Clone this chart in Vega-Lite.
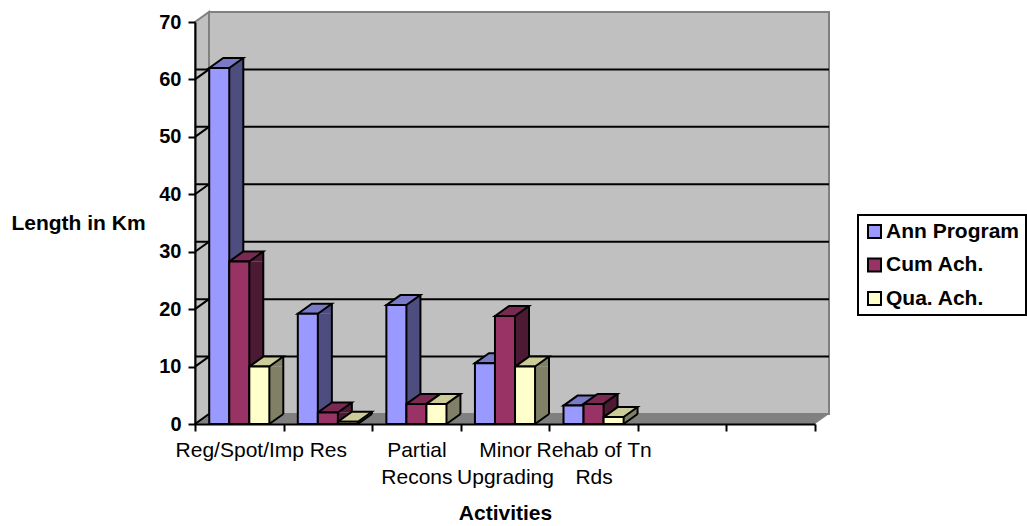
{
"$schema":"https://vega.github.io/schema/vega-lite/v6.json",
"width":620,"height":402,
"autosize":"none",
"padding":{"left":195,"top":22,"right":212,"bottom":102},
"background":"white",
"config":{"font":"Liberation Sans","view":{"stroke":null},"axis":{"labelFont":"Liberation Sans","titleFont":"Liberation Sans"},"legend":{"strokeWidth":2}},
"resolve":{"scale":{"color":"independent"}},
"layer":[
{"data":{"values":[{"c":"Reg/Spot/Imp","v":0}]},"mark":{"type":"point","shape":"M14 -10L634 -10L634 -412L14 -412Z","size":4,"filled":true,"fill":"#C0C0C0","stroke":"#808080","strokeWidth":2,"opacity":1},
 "encoding":{"x":{"field":"c","type":"nominal","bandPosition":0},"y":{"field":"v","type":"quantitative","scale":{"domain":[0,70],"nice":false},
   "axis":{"values":[0,10,20,30,40,50,60,70],"grid":false,"domainColor":"black","domainWidth":2,"tickColor":"black","tickWidth":2,"tickSize":7,"labelFontSize":20,"labelFontWeight":"bold","labelColor":"black","labelPadding":7,"title":"Length in Km","titleFontSize":21,"titleFontWeight":"bold","titleColor":"black","titleAngle":0,"titleX":-117,"titleY":201,"titleAlign":"center","titleBaseline":"middle","zindex":1}}}},
{"data":{"values":[{"c":"Reg/Spot/Imp","v":0}]},"mark":{"type":"point","shape":"M0 0L620 0L634 -10L14 -10Z","size":4,"filled":true,"fill":"#808080","opacity":1},
 "encoding":{"x":{"field":"c","type":"nominal","bandPosition":0},"y":{"field":"v","type":"quantitative"}}},
{"data":{"values":[{"c":"Reg/Spot/Imp","v":0}]},"mark":{"type":"point","shape":"M0 0L14 -10L14 -412L0 -402Z","size":4,"filled":true,"fill":"#C0C0C0","stroke":"#808080","strokeWidth":2,"opacity":1},
 "encoding":{"x":{"field":"c","type":"nominal","bandPosition":0},"y":{"field":"v","type":"quantitative"}}},
{"data":{"values":[{"v":10},{"v":20},{"v":30},{"v":40},{"v":50},{"v":60}]},"mark":{"type":"rule","xOffset":14,"yOffset":-10,"color":"black","strokeWidth":2},
 "encoding":{"y":{"field":"v","type":"quantitative"}}},
{"data":{"values":[{"c":"Reg/Spot/Imp","v":0},{"c":"Reg/Spot/Imp","v":10},{"c":"Reg/Spot/Imp","v":20},{"c":"Reg/Spot/Imp","v":30},{"c":"Reg/Spot/Imp","v":40},{"c":"Reg/Spot/Imp","v":50},{"c":"Reg/Spot/Imp","v":60}]},"mark":{"type":"point","shape":"M0 0L14 -10","size":4,"filled":false,"stroke":"black","strokeWidth":2,"opacity":1},
 "encoding":{"x":{"field":"c","type":"nominal","bandPosition":0},"y":{"field":"v","type":"quantitative"}}},
{"data":{"values":[
{"c":"Reg/Spot/Imp","s":"Ann Program","v":62},{"c":"Reg/Spot/Imp","s":"Cum Ach.","v":28.3},{"c":"Reg/Spot/Imp","s":"Qua. Ach.","v":10},
{"c":"Res","s":"Ann Program","v":19.2},{"c":"Res","s":"Cum Ach.","v":2},{"c":"Res","s":"Qua. Ach.","v":0.4},
{"c":"Partial Recons","s":"Ann Program","v":20.7},{"c":"Partial Recons","s":"Cum Ach.","v":3.5},{"c":"Partial Recons","s":"Qua. Ach.","v":3.5},
{"c":"Minor Upgrading","s":"Ann Program","v":10.6},{"c":"Minor Upgrading","s":"Cum Ach.","v":18.8},{"c":"Minor Upgrading","s":"Qua. Ach.","v":10},
{"c":"Rehab of Tn Rds","s":"Ann Program","v":3.2},{"c":"Rehab of Tn Rds","s":"Cum Ach.","v":3.5},{"c":"Rehab of Tn Rds","s":"Qua. Ach.","v":1.2}
]},
"encoding":{
 "x":{"field":"c","type":"nominal","sort":null,"scale":{"domain":["Reg/Spot/Imp","Res","Partial Recons","Minor Upgrading","Rehab of Tn Rds"," ","  "],"paddingInner":0,"paddingOuter":0},
   "axis":{"title":"Activities","titleFontSize":21,"titleFontWeight":"bold","titleColor":"black","titleY":89,"titleBaseline":"middle","labelAngle":0,"labelAlign":"center","labelFontSize":21,"labelColor":"black","labelFontWeight":"normal","labelOverlap":false,"labelLimit":0,"labelBaseline":"top","labelPadding":8,"labelLineHeight":27,"tickBand":"extent","tickColor":"black","tickWidth":2,"tickSize":7,"domainColor":"black","domainWidth":2,"zindex":1,
   "labelExpr":"datum.value=='Partial Recons'?['Partial','Recons']:datum.value=='Minor Upgrading'?['Minor','Upgrading']:datum.value=='Rehab of Tn Rds'?['Rehab of Tn','Rds']:datum.value"}},
 "xOffset":{"field":"s","type":"nominal","sort":null,"scale":{"domain":["Ann Program","Cum Ach.","Qua. Ach."],"paddingInner":0,"paddingOuter":0.71}},
 "y":{"field":"v","type":"quantitative"}
},
"resolve":{"scale":{"color":"independent"}},
"layer":[
{"transform":[{"filter":"datum.v>=2"}],"mark":{"type":"bar","width":14,"xOffset":{"expr":"indexof(['Ann Program','Cum Ach.','Qua. Ach.'],datum.s)*20-3"},"y2Offset":-10},
 "encoding":{"xOffset":null,"y2":{"datum":0},"color":{"field":"s","type":"nominal","legend":null,"scale":{"domain":["Ann Program","Cum Ach.","Qua. Ach."],"range":["#4D4D80","#4D1A33","#808066"]}}}},
{"transform":[{"filter":"datum.v>=2"}],"mark":{"type":"point","shape":"M10 0L24 -10L24 0Z","size":4,"filled":true,"opacity":1},
 "encoding":{"color":{"field":"s","type":"nominal","legend":null,"scale":{"domain":["Ann Program","Cum Ach.","Qua. Ach."],"range":["#4D4D80","#4D1A33","#808066"]}}}},
{"transform":[{"filter":"datum.v>=2"}],"mark":{"type":"point","shape":"M10 -10L24 -10L10 0Z","size":4,"filled":true,"opacity":1},
 "encoding":{"y":{"datum":0},"color":{"field":"s","type":"nominal","legend":null,"scale":{"domain":["Ann Program","Cum Ach.","Qua. Ach."],"range":["#4D4D80","#4D1A33","#808066"]}}}},
{"transform":[{"filter":"datum.v==0.4"}],"mark":{"type":"point","shape":"M10 0L24 -10L24 -7.7L10 2.3Z","size":4,"filled":true,"fill":"#808066","opacity":1}},
{"transform":[{"filter":"datum.v==1.2"}],"mark":{"type":"point","shape":"M10 0L24 -10L24 -3.1L10 6.9Z","size":4,"filled":true,"fill":"#808066","opacity":1}},
{"mark":{"type":"rule","xOffset":{"expr":"indexof(['Ann Program','Cum Ach.','Qua. Ach.'],datum.s)*20+4"},"yOffset":-10,"y2Offset":-10,"color":"black","strokeWidth":2},"encoding":{"xOffset":null,"y2":{"datum":0}}},
{"mark":{"type":"point","shape":"M10 0L24 -10","size":4,"filled":false,"stroke":"black","strokeWidth":2,"opacity":1},"encoding":{"y":{"datum":0}}},
{"mark":{"type":"point","shape":"M-10 0L4 -10L24 -10L10 0Z","size":4,"filled":true,"stroke":"black","strokeWidth":2,"opacity":1},
 "encoding":{"color":{"field":"s","type":"nominal","legend":null,"scale":{"domain":["Ann Program","Cum Ach.","Qua. Ach."],"range":["#7A7AC8","#7A2952","#CCCC99"]}}}},
{"mark":{"type":"bar","stroke":"black","strokeWidth":2},
 "encoding":{"y2":{"datum":0},"color":{"field":"s","type":"nominal","scale":{"domain":["Ann Program","Cum Ach.","Qua. Ach."],"range":["#9999FF","#993366","#FFFFCC"]},
   "legend":{"title":null,"orient":"none","legendX":663,"legendY":193,"fillColor":"white","strokeColor":"black","cornerRadius":0,"padding":6,"symbolType":"square","symbolSize":169,"symbolStrokeColor":"black","symbolStrokeWidth":2,"labelFontSize":21,"labelFontWeight":"bold","labelColor":"black","labelFont":"Liberation Sans","labelOffset":1,"rowPadding":11.5,"columnPadding":0,"labelLimit":300}}}}
]}
]
}
